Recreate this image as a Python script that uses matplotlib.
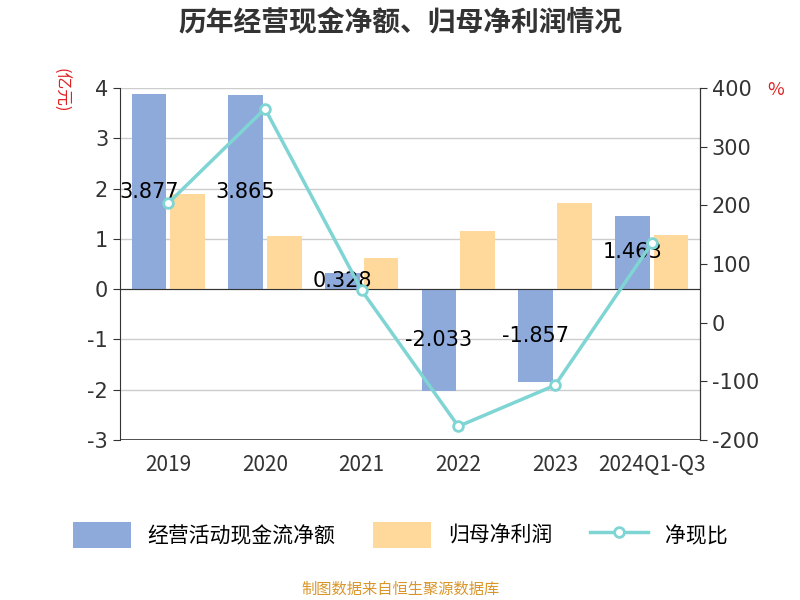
import matplotlib
matplotlib.use("Agg")
import matplotlib.pyplot as plt
import numpy as np

plt.rcParams['font.family'] = 'Noto Sans CJK SC'
plt.rcParams['axes.unicode_minus'] = False

categories = ["2019", "2020", "2021", "2022", "2023", "2024Q1-Q3"]
cash_flow = [3.877, 3.865, 0.328, -2.033, -1.857, 1.463]
net_profit = [1.90, 1.05, 0.62, 1.15, 1.72, 1.08]
ratio = [204, 365, 55, -177, -107, 135]

fig = plt.figure(figsize=(8, 6), dpi=100)
ax = fig.add_axes([0.15, 0.267, 0.725, 0.586])
x = np.arange(len(categories))
w = 0.36
ax.bar(x - 0.2, cash_flow, w, color='#8eaadb', label='经营活动现金流净额', zorder=2)
ax.bar(x + 0.2, net_profit, w, color='#ffd99b', label='归母净利润', zorder=2)
for xi, v in zip(x, cash_flow):
    ax.text(xi - 0.2, v / 2, f"{v:.3f}", ha='center', va='center',
            fontsize=15, family='DejaVu Sans', zorder=5)
ax.set_ylim(-3, 4)
ax.set_xlim(-0.5, len(categories) - 0.5)
ax.set_yticks(range(-3, 5))
ax.set_xticks(x)
ax.set_xticklabels(categories)
for lbl in ax.get_xticklabels() + ax.get_yticklabels():
    lbl.set_family('DejaVu Sans')
ax.grid(axis='y', color='#cccccc', lw=1, zorder=0)
ax.axhline(-3, color='#333333', lw=1.2, zorder=3)
ax.spines['top'].set_visible(False)
ax.spines['left'].set_color('#333333')
ax.spines['bottom'].set_position(('data', 0))
ax.spines['bottom'].set_color('#333333')
ax.tick_params(axis='x', length=0, pad=119, labelsize=15, labelcolor='#333333')
ax.tick_params(axis='y', color='#333333', length=5, labelsize=15, labelcolor='#333333')

ax2 = ax.twinx()
ax2.plot(x, ratio, color='#7fd4d4', lw=2.5, marker='o', markersize=7,
         markerfacecolor='white', markeredgecolor='#7fd4d4', markeredgewidth=2, label='净现比', zorder=4)
ax2.set_ylim(-200, 400)
ax2.set_yticks(range(-200, 401, 100))
for lbl in ax2.get_yticklabels():
    lbl.set_family('DejaVu Sans')
ax2.spines['top'].set_visible(False)
ax2.spines['right'].set_color('#333333')
ax2.spines['left'].set_visible(False)
ax2.spines['bottom'].set_visible(False)
ax2.tick_params(axis='y', color='#333333', length=5, labelsize=15, labelcolor='#333333')

fig.text(0.5, 0.962, "历年经营现金净额、归母净利润情况", ha='center', va='center', fontsize=20, fontweight='bold', color='#333333')
fig.text(0.075, 0.85, "(亿元)", rotation=-90, ha='center', va='center', fontsize=12, color='#e02020')
fig.text(0.97, 0.85, "%", ha='center', va='center', fontsize=13, color='#e02020')
h1, l1 = ax.get_legend_handles_labels()
h2, l2 = ax2.get_legend_handles_labels()
fig.legend(h1 + h2, l1 + l2, loc='center', bbox_to_anchor=(0.5, 0.108), ncol=3, frameon=False,
           fontsize=15, handlelength=2.8, handleheight=1.5, columnspacing=1.8)
fig.text(0.5, 0.018, "制图数据来自恒生聚源数据库", ha='center', va='center', fontsize=11, color='#d9962b')
fig.savefig("out.png")
